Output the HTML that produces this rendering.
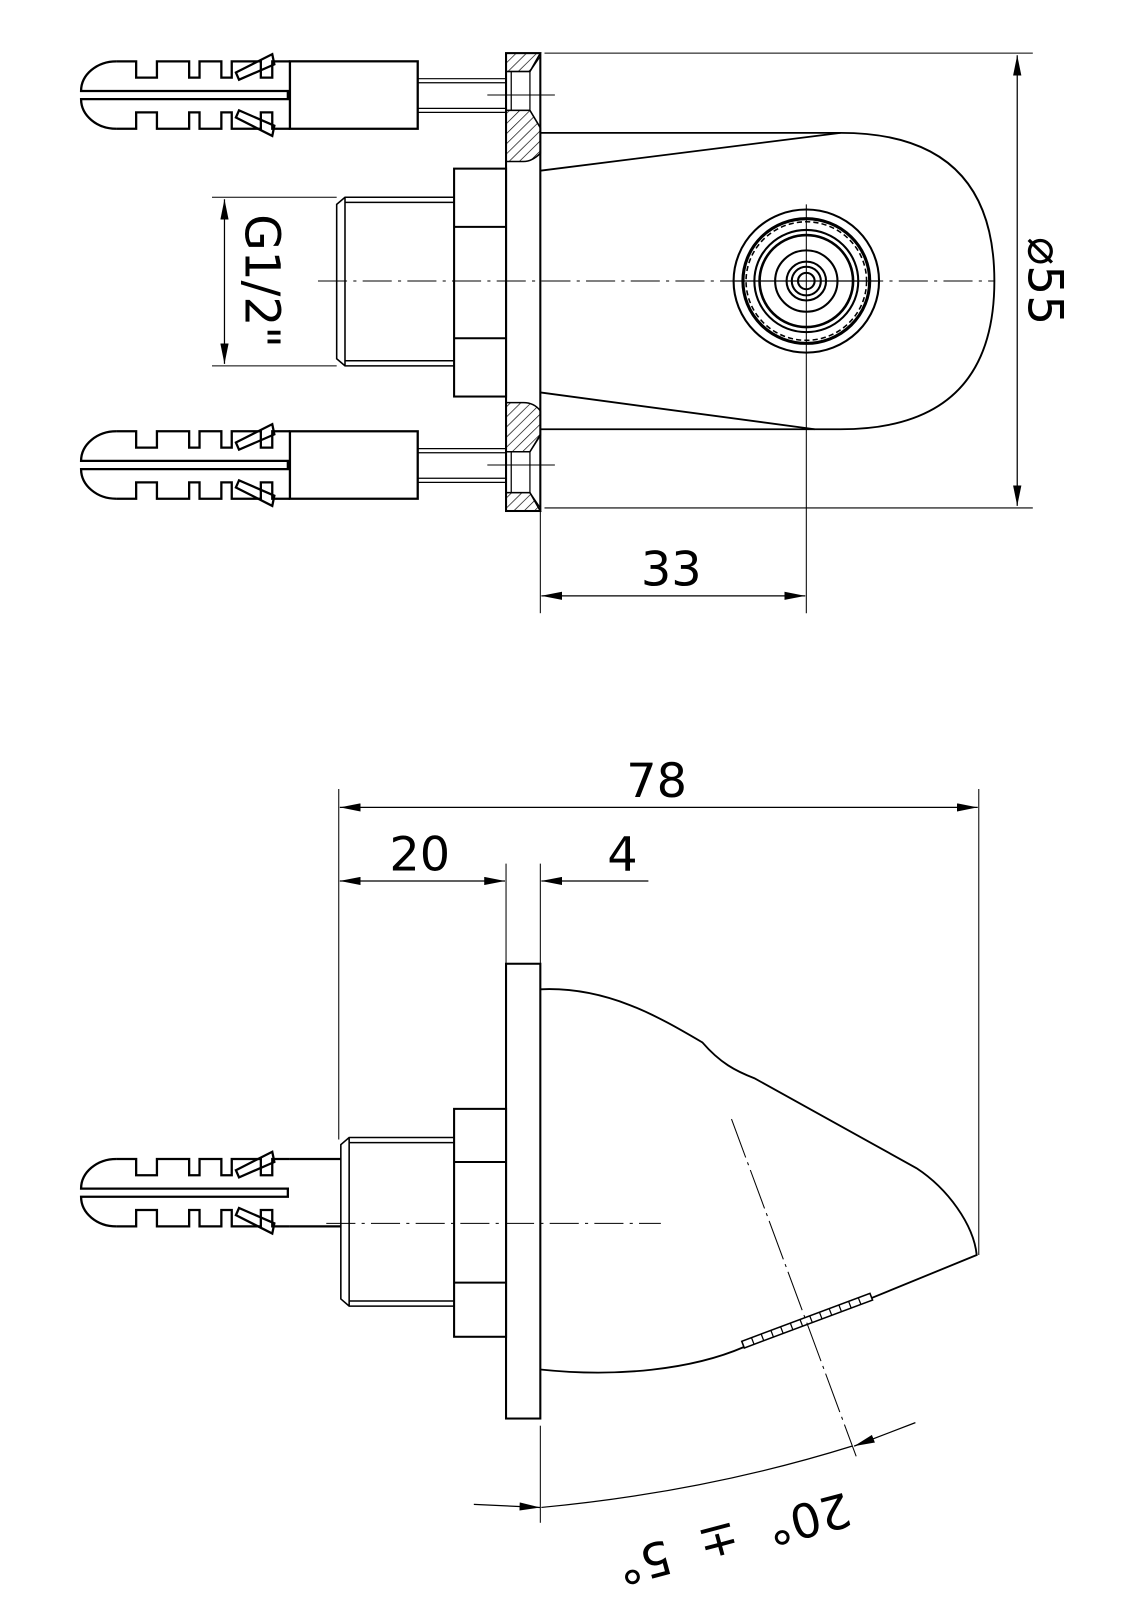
<!DOCTYPE html>
<html><head><meta charset="utf-8"><style>html,body{margin:0;padding:0;background:#fff}svg{display:block}</style></head>
<body>
<svg width="1132" height="1600" viewBox="0 0 1132 1600" xmlns="http://www.w3.org/2000/svg" font-family="'DejaVu Sans','Liberation Sans',sans-serif">
<defs>
<marker id="ar" viewBox="0 0 20 8" refX="20" refY="4" markerWidth="20" markerHeight="8" markerUnits="userSpaceOnUse" orient="auto-start-reverse"><path d="M0,0 L20,4 L0,8 z" fill="#000"/></marker>
<pattern id="hatch" width="7" height="7" patternUnits="userSpaceOnUse" patternTransform="rotate(45)"><line x1="0" y1="0" x2="0" y2="7" stroke="#000" stroke-width="1.3"/></pattern>
<g id="anchor" fill="none" stroke="#000" stroke-width="2.2">
<path d="M118,-33 H137 V-17 H157 V-33 H188 V-17 H198 V-33 H219 V-17 H229 V-33 H257 V-17 H268 V-33 H285"/>
<path d="M118,33 H137 V17 H157 V33 H188 V17 H198 V33 H219 V17 H229 V33 H257 V17 H268 V33 H285"/>
<path d="M118,-33 A34,29 0 0 0 84,-4 H283 V4 H84 A34,29 0 0 0 118,33"/>
<path d="M233,-22 L268,-40 L270,-30 L236,-15 z"/>
<path d="M233,22 L268,40 L270,30 L236,15 z"/>
</g>
</defs>
<g transform="translate(-14.5,0) scale(1.039,1)">
<g transform="translate(8,0) scale(1,1.022)" fill="none" stroke="#000" stroke-width="1.5">
<!-- TOP VIEW -->
<use href="#anchor" x="0" y="93"/>
<rect x="285" y="60" width="123" height="66" stroke-width="2.2"/>
<path d="M408,77 H493 M408,110 H493 M408,81 H493 M408,106 H493" stroke-width="1.2"/>
<use href="#anchor" x="0" y="455"/>
<rect x="285" y="422" width="123" height="66" stroke-width="2.2"/>
<path d="M408,439 H493 M408,472 H493 M408,443 H493 M408,468 H493" stroke-width="1.2"/>
<path d="M475,93 H540 M475,455 H540" stroke-width="1"/>
<rect x="493" y="52" width="33" height="448" stroke-width="2"/>
<path d="M493,52 H526 L516,70 H493 z" fill="url(#hatch)"/>
<path d="M493,108 H516 L526,125 V150 Q518,158 510,158 Q500,158 493,158 z" fill="url(#hatch)"/>
<path d="M493,394 H510 Q520,394 526,402 V426 L516,442 H493 z" fill="url(#hatch)"/>
<path d="M493,482 H516 L526,500 H493 z" fill="url(#hatch)"/>
<path d="M498,70 V108 M516,70 V108 M498,442 V482 M516,442 V482" stroke-width="1.2"/>
<path d="M493,70 H516 L526,55 M493,108 H516 L526,125 M493,442 H516 L526,425 M493,482 H516 L526,497" stroke-width="1.2"/>
<path d="M526,130 H815 Q963,130 963,275 Q963,420 815,420 H526" stroke-width="1.8"/>
<path d="M526,167 L815,130 M526,384 L790,420" stroke-width="1.8"/>
<rect x="443" y="165" width="50" height="223" stroke-width="2"/>
<path d="M443,222 H493 M443,331 H493" stroke-width="2"/>
<path d="M443,193 H338 L330,200 V351 L338,358 H443 M338,193 V358 M338,198 H443 M338,353 H443" stroke-width="1.5"/>
<path d="M312,275 H963" stroke-width="1" stroke-dasharray="28,6,3,6"/>
<path d="M782,200 V600" stroke-width="1"/>
<g stroke-width="2">
<circle cx="782" cy="275" r="70"/>
<circle cx="782" cy="275" r="61" stroke-width="3"/>
<circle cx="782" cy="275" r="58" stroke-dasharray="5,3" stroke-width="1.5"/>
<circle cx="782" cy="275" r="50"/>
<circle cx="782" cy="275" r="45" stroke-width="2.5"/>
<circle cx="782" cy="275" r="30"/>
<circle cx="782" cy="275" r="19"/>
<circle cx="782" cy="275" r="14"/>
<circle cx="782" cy="275" r="8"/>
</g>
<path d="M712,275 H852" stroke-width="1.2"/>
<path d="M210,193 H330 M210,358 H330" stroke-width="1"/>
<line x1="222" y1="195" x2="222" y2="356" stroke-width="1.2" marker-start="url(#ar)" marker-end="url(#ar)"/>
<text x="0" y="0" transform="translate(242,275) rotate(90)" font-size="46" text-anchor="middle" fill="#000" stroke="none">G1/2"</text>
<path d="M530,52 H1000 M530,497 H1000" stroke-width="1"/>
<line x1="985" y1="54" x2="985" y2="495" stroke-width="1.2" marker-start="url(#ar)" marker-end="url(#ar)"/>
<text x="0" y="0" transform="translate(996,275) rotate(90)" font-size="46" text-anchor="middle" fill="#000" stroke="none">⌀55</text>
<path d="M526,500 V600" stroke-width="1"/>
<line x1="527" y1="583" x2="781" y2="583" stroke-width="1.2" marker-start="url(#ar)" marker-end="url(#ar)"/>
<text x="652" y="573" font-size="46" text-anchor="middle" fill="#000" stroke="none">33</text>

<!-- BOTTOM VIEW -->
<path d="M332,772 V1115 M948,772 V1228" stroke-width="1"/>
<line x1="333" y1="790" x2="947" y2="790" stroke-width="1.2" marker-start="url(#ar)" marker-end="url(#ar)"/>
<text x="638" y="780" font-size="46" text-anchor="middle" fill="#000" stroke="none">78</text>
<path d="M493,845 V943 M526,845 V943" stroke-width="1"/>
<line x1="333" y1="862" x2="492" y2="862" stroke-width="1.2" marker-start="url(#ar)" marker-end="url(#ar)"/>
<text x="410" y="852" font-size="46" text-anchor="middle" fill="#000" stroke="none">20</text>
<line x1="630" y1="862" x2="527" y2="862" stroke-width="1.2" marker-end="url(#ar)"/>
<text x="605" y="852" font-size="46" text-anchor="middle" fill="#000" stroke="none">4</text>
<rect x="493" y="943" width="33" height="445" stroke-width="2"/>
<rect x="443" y="1085" width="50" height="223" stroke-width="2"/>
<path d="M443,1137 H493 M443,1255 H493" stroke-width="2"/>
<path d="M443,1113 H342 L334,1120 V1271 L342,1278 H443 M342,1113 V1278 M342,1118 H443 M342,1273 H443" stroke-width="1.5"/>
<use href="#anchor" x="0" y="1167"/>
<path d="M285,1134 H334 M285,1200 H334" stroke-width="2.2"/>
<path d="M320,1197 H642" stroke-width="1" stroke-dasharray="28,6,3,6"/>
<path d="M526,968 C590,965 640,995 682,1020 C699,1040 714,1048 732,1055 L888,1143 C918,1163 943,1198 946,1228 L845,1270" stroke-width="1.8"/>
<path d="M526,1340 C600,1348 672,1340 722,1318" stroke-width="1.8"/>
<g transform="translate(722,1318) rotate(-20.8)">
<rect x="0" y="-6" width="132" height="7" stroke-width="1.5"/>
<path d="M10,-6 V1 M20,-6 V1 M30,-6 V1 M40,-6 V1 M50,-6 V1 M60,-6 V1 M70,-6 V1 M80,-6 V1 M90,-6 V1 M100,-6 V1 M110,-6 V1 M120,-6 V1" stroke-width="1.2"/>
</g>
<path d="M710,1095 L830,1425" stroke-width="1" stroke-dasharray="40,5,3,5"/>
<path d="M526,1395 V1490" stroke-width="1"/>
<path d="M527,1475 Q684,1460 826,1415" stroke-width="1.2"/>
<line x1="462" y1="1472" x2="526" y2="1475" stroke-width="1.2" marker-end="url(#ar)"/>
<line x1="887" y1="1392" x2="828" y2="1415" stroke-width="1.2" marker-end="url(#ar)"/>
<text x="0" y="0" transform="translate(708,1490) rotate(165)" font-size="46" text-anchor="middle" fill="#000" stroke="none" xml:space="preserve">20°  ±  5°</text>
</g>
</g>
</svg>
</body></html>
